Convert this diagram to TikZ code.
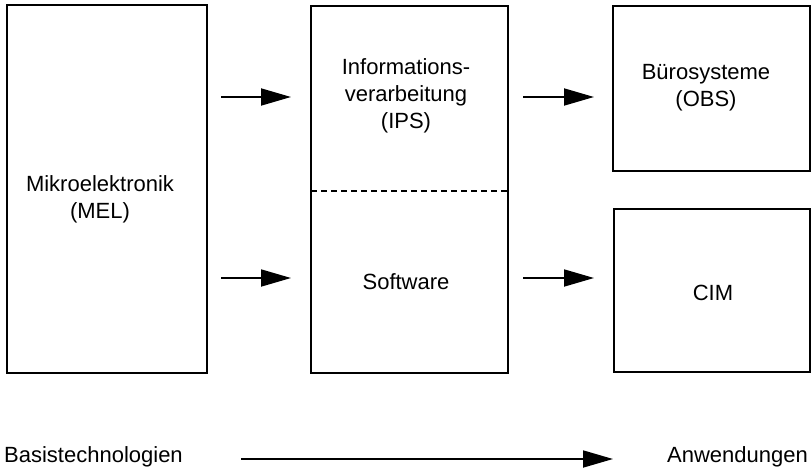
\documentclass[tikz,border=0pt]{standalone}
\usepackage{fontspec}
\setmainfont{Liberation Sans}
\usetikzlibrary{arrows.meta}
\begin{document}
\begin{tikzpicture}[x=1pt,y=-1pt,
  box/.style={draw,line width=1.7pt,inner sep=0pt},
  lbl/.style={font=\fontsize{22}{27}\selectfont,align=center,inner sep=0pt},
  flow/.style={line width=1.8pt,-{Triangle[length=30pt,width=17pt]}},
  divider/.style={line width=1.4pt,dash pattern=on 6pt off 4pt}]
\useasboundingbox (0,0) rectangle (811,471);
% boxes
\node[box,minimum width=200pt,minimum height=368pt] (mel) at (107,189) {};
\node[box,minimum width=197pt,minimum height=367pt] (ips) at (409.5,189.5) {};
\node[box,minimum width=197pt,minimum height=165pt] (obs) at (711.5,88.5) {};
\node[box,minimum width=196pt,minimum height=163pt] (cim) at (712,290.5) {};
% divider
\coordinate (dl) at (311,191);
\coordinate (dr) at (508,191);
\draw[divider] (dl) -- (dr);
% labels
\node[lbl] (tmel) at (100,199) {Mikroelektronik\\(MEL)};
\node[lbl] (tips) at (406,96) {Informations-\\verarbeitung\\(IPS)};
\node[lbl] (tsw) at (406,282) {Software};
\node[lbl] (tobs) at (706,88) {Bürosysteme\\(OBS)};
\node[lbl] (tcim) at (713,293) {CIM};
\node[lbl,anchor=west] (tbas) at (4,457) {Basistechnologien};
\node[lbl,anchor=east] (tanw) at (808,457) {Anwendungen};
% arrows
\coordinate (a1s) at (221,97);  \coordinate (a1e) at (291,97);
\coordinate (a2s) at (221,278); \coordinate (a2e) at (291,278);
\coordinate (a3s) at (523,97);  \coordinate (a3e) at (594,97);
\coordinate (a4s) at (523,278); \coordinate (a4e) at (594,278);
\coordinate (a5s) at (241,459); \coordinate (a5e) at (613,459);
\draw[flow] (a1s) -- (a1e);
\draw[flow] (a2s) -- (a2e);
\draw[flow] (a3s) -- (a3e);
\draw[flow] (a4s) -- (a4e);
\draw[flow] (a5s) -- (a5e);
\end{tikzpicture}
\end{document}
